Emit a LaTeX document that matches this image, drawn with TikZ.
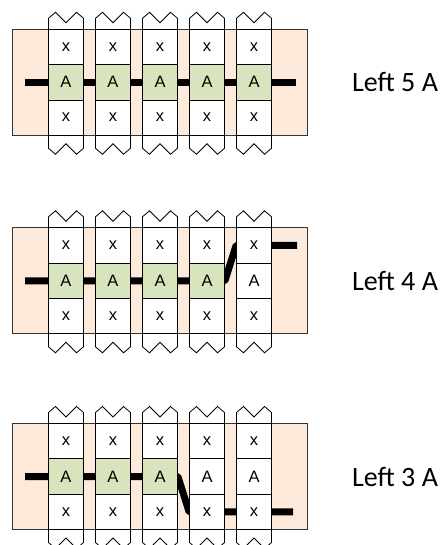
\documentclass[tikz,border=0pt]{standalone}
\usepackage{fontspec}
\setmainfont{Liberation Sans}
\newfontfamily\lblfont{Carlito}
\pgfdeclarelayer{back}
\pgfdeclarelayer{wirelayer}
\pgfsetlayers{back,wirelayer,main}
\definecolor{peach}{HTML}{FDEADA}
\definecolor{leaf}{HTML}{D7E4BD}
\tikzset{
 cell/.style={draw=black, line width=0.8pt, fill=white, minimum width=35pt, minimum height=35.33pt, inner sep=0pt, font=\fontsize{16.5}{16.5}\selectfont},
 panel/.style={draw=black!80, line width=0.8pt, fill=peach},
 colshape/.style={draw=black, line width=0.8pt, fill=white},
 wire/.style={line width=7pt, black, line join=bevel},
 lbl/.style={anchor=west, inner sep=0pt, font=\lblfont\fontsize{28}{28}\selectfont},
}
\begin{document}
\begin{tikzpicture}[x=1pt,y=-1pt]
\useasboundingbox (0,0) rectangle (445,545);
\clip (0,0) rectangle (445,545);
\foreach \pp/\tp/\ng in {1/29.3/5,2/227.8/4,3/423.5/3}{
  \pgfmathsetmacro\bt{\tp+106}
  \pgfmathsetmacro\yt{\tp-11}
  \pgfmathsetmacro\yb{\bt+13}
  \begin{pgfonlayer}{back}
    \draw[panel] (12.5,\tp) rectangle (307,\bt);
  \end{pgfonlayer}
  \foreach \cc in {1,...,5}{
    \pgfmathsetmacro\xl{48.5+47*(\cc-1)}
    \pgfmathsetmacro\xr{\xl+35}
    \pgfmathsetmacro\xm{\xl+17.5}
    \begin{pgfonlayer}{back}
      \draw[colshape] (\xl,\yb) -- (\xl,\yt) -- ({\xl+7},{\yt-6}) -- (\xm,{\yt+4.5})
        -- ({\xr-7},{\yt-6}) -- (\xr,\yt) -- (\xr,\yb) -- ({\xr-7},{\yb+6})
        -- (\xm,{\yb-4.5}) -- ({\xl+7},{\yb+6}) -- cycle;
    \end{pgfonlayer}
    \ifnum\cc>\ng\relax\def\fc{white}\else\def\fc{leaf}\fi
    \node[cell] (p\pp c\cc t) at (\xm,{\tp+17.67}) {x};
    \node[cell,fill=\fc] (p\pp c\cc m) at (\xm,{\tp+53}) {A};
    \node[cell] (p\pp c\cc b) at (\xm,{\tp+88.33}) {x};
  }
}
\begin{pgfonlayer}{wirelayer}
  \draw[wire] ([xshift=-41pt]p1c1m.center) -- ([xshift=42pt]p1c5m.center);
  \draw[wire] ([xshift=-41pt]p2c1m.center) -- (p2c4m.east) -- (p2c5t.west) -- ([xshift=43pt]p2c5t.center);
  \draw[wire] ([xshift=-41pt]p3c1m.center) -- (p3c3m.east) -- (p3c4b.west) -- ([xshift=39pt]p3c5b.center);
\end{pgfonlayer}
\coordinate (labx) at (352,0);
\node[lbl] (lab1) at (p1c1m -| labx) {Left 5 A};
\node[lbl] (lab2) at (p2c1m -| labx) {Left 4 A};
\node[lbl] (lab3) at (p3c1m -| labx) {Left 3 A};
\end{tikzpicture}
\end{document}
